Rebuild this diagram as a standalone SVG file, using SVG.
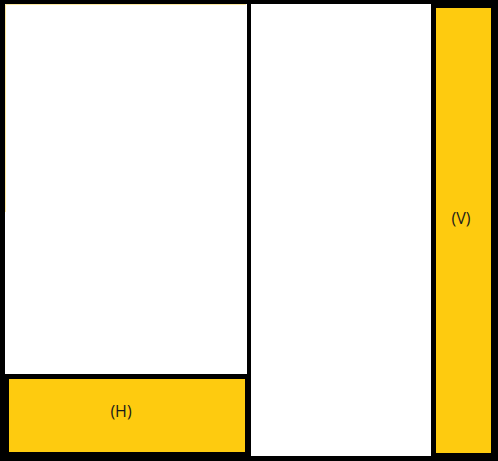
<svg xmlns="http://www.w3.org/2000/svg" width="498" height="461" viewBox="0 0 498 461">
<style>
.w{fill:#ffffff}
.y{fill:#fecb0f}
.t{font-family:"Open Sans","DejaVu Sans",sans-serif;font-size:16px;fill:#1a1a1a;text-anchor:middle;dominant-baseline:central}
</style>
<rect x="0" y="0" width="498" height="461" fill="#000000"/>
<g id="panel-top-left"><rect class="w" x="5" y="4" width="242" height="370"/><path d="M5.5 212V4.5H246" fill="none" stroke="#fde9a0" stroke-width="1"/></g>
<g id="panel-H"><rect class="y" x="9" y="379" width="236" height="73"/><text class="t" x="121" y="411">(H)</text></g>
<g id="panel-middle"><rect class="w" x="251" y="4" width="180" height="452"/></g>
<g id="panel-V"><rect class="y" x="436" y="8" width="55" height="445"/><text class="t" x="461" y="218">(V)</text></g>
<g id="connectors"></g>
</svg>
